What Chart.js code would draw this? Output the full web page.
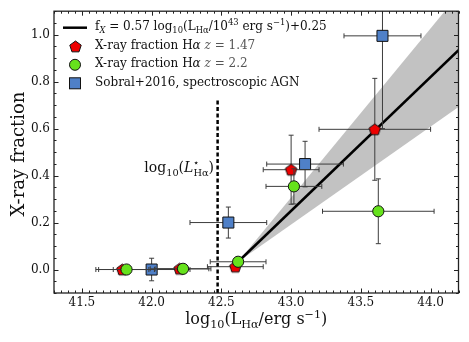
<!DOCTYPE html>
<html>
<head>
<meta charset="utf-8">
<script src="https://cdn.jsdelivr.net/npm/chart.js@4.4.1/dist/chart.umd.min.js"></script>
<style>
  html, body { margin: 0; padding: 0; background: #fff; }
  #wrap { width: 469px; height: 342px; position: relative; }
</style>
</head>
<body>
<div id="wrap"><canvas id="c"></canvas></div>
<script>
// X-ray fraction, H-alpha z = 1.47
const redX = [41.79, 42.20, 42.60, 43.00, 43.60];
const redY = [0.000, 0.003, 0.012, 0.425, 0.597];
const redXErr = [0.19, 0.21, 0.20, 0.20, 0.40];
const redYErr = [0.005, 0.005, 0.008, 0.147, 0.217];

// X-ray fraction, H-alpha z = 2.2
const greenX = [41.82, 42.225, 42.62, 43.02, 43.625];
const greenY = [0.000, 0.003, 0.033, 0.354, 0.248];
const greenXErr = [0.20, 0.20, 0.20, 0.20, 0.40];
const greenYErr = [0.005, 0.005, 0.008, 0.075, 0.138];

// Sobral+2016, spectroscopic AGN
const blueX = [42.00, 42.55, 43.10, 43.655];
const blueY = [0.000, 0.200, 0.449, 0.995];
const blueXErr = [0.275, 0.275, 0.275, 0.276];
const blueYErr = [0.048, 0.066, 0.097, 0.395];

// fit and its uncertainty band
const fitX = [42.62, 44.2];
const fitY = [0.033, 0.934];
const bandUpper = [0.033, 1.171];
const bandLower = [0.033, 0.692];

// L* marker
const lstarX = [42.473, 42.473];
const lstarY = [-0.1, 0.72];

const xTicks = [41.5, 42.0, 42.5, 43.0, 43.5, 44.0];
const yTicks = [0.0, 0.2, 0.4, 0.6, 0.8, 1.0];

const FONT = '"DejaVu Serif", "Liberation Serif", serif';
const RED = '#ee0000', GREEN = '#66e21c', BLUE = '#4f80c8';

const pts = (xs, ys) => xs.map((x, i) => ({x, y: ys[i]}));

function pentagon(fill, r) {
  const s = Math.ceil(2 * r + 3);
  const c = document.createElement('canvas');
  c.width = c.height = s;
  const g = c.getContext('2d');
  g.beginPath();
  for (let i = 0; i < 5; i++) {
    const a = -Math.PI / 2 + i * 2 * Math.PI / 5;
    const px = s / 2 + r * Math.cos(a), py = s / 2 + 0.5 + r * Math.sin(a);
    i ? g.lineTo(px, py) : g.moveTo(px, py);
  }
  g.closePath();
  g.fillStyle = fill;
  g.fill();
  g.lineWidth = 1;
  g.strokeStyle = '#111';
  g.stroke();
  return c;
}
const pentImg = pentagon(RED, 6);

// text with sub/superscripts and italics
function rich(ctx, x, y, parts, size, align) {
  const fontOf = p => `${p.i ? 'italic ' : ''}${p.s ? size * 0.7 : size}px ${FONT}`;
  let w = 0;
  parts.forEach(p => { ctx.font = fontOf(p); if (!p.k) w += ctx.measureText(p.t).width; });
  if (align === 'center') x -= w / 2;
  if (align === 'right') x -= w;
  ctx.textBaseline = 'alphabetic';
  ctx.textAlign = 'left';
  parts.forEach(p => {
    ctx.font = fontOf(p);
    ctx.fillStyle = p.c || '#111';
    const dy = p.s === 'sub' ? size * 0.25 : p.s === 'sup' ? -size * 0.4 : 0;
    ctx.fillText(p.t, x, y + dy);
    if (!p.k) x += ctx.measureText(p.t).width;
  });
  return w;
}

const errorBars = {
  id: 'errorBars',
  beforeDatasetDraw(chart, args) {
    const ds = chart.data.datasets[args.index];
    if (!ds.xErr) return;
    const {ctx, chartArea: a, scales: {x, y}} = chart;
    ctx.save();
    ctx.beginPath();
    ctx.rect(a.left, a.top, a.right - a.left, a.bottom - a.top);
    ctx.clip();
    ctx.strokeStyle = '#3c3c3c';
    ctx.lineWidth = 1;
    const cap = 2.5;
    ds.data.forEach((p, i) => {
      const px = x.getPixelForValue(p.x), py = y.getPixelForValue(p.y);
      const x0 = x.getPixelForValue(p.x - ds.xErr[i]), x1 = x.getPixelForValue(p.x + ds.xErr[i]);
      const y0 = y.getPixelForValue(p.y - ds.yErr[i]), y1 = y.getPixelForValue(p.y + ds.yErr[i]);
      ctx.beginPath();
      ctx.moveTo(x0, py); ctx.lineTo(x1, py);
      ctx.moveTo(x0, py - cap); ctx.lineTo(x0, py + cap);
      ctx.moveTo(x1, py - cap); ctx.lineTo(x1, py + cap);
      ctx.moveTo(px, y0); ctx.lineTo(px, y1);
      ctx.moveTo(px - cap, y0); ctx.lineTo(px + cap, y0);
      ctx.moveTo(px - cap, y1); ctx.lineTo(px + cap, y1);
      ctx.stroke();
    });
    ctx.restore();
  }
};

const frame = {
  id: 'frame',
  afterDatasetsDraw(chart) {
    const {ctx, chartArea: a, scales: {x, y}} = chart;
    ctx.save();
    ctx.strokeStyle = '#222';
    ctx.lineWidth = 1;
    ctx.beginPath();
    // minor + major ticks, inward, all sides
    for (let v = 41.3; v <= 44.2001; v += 0.05) {
      const r = Math.round(v * 100) / 100;
      const major = Math.abs(r * 2 - Math.round(r * 2)) < 1e-6;
      const len = major ? 4.5 : 2.5;
      const px = Math.round(x.getPixelForValue(r)) + 0.5;
      ctx.moveTo(px, a.bottom); ctx.lineTo(px, a.bottom - len);
      ctx.moveTo(px, a.top); ctx.lineTo(px, a.top + len);
    }
    for (let v = -0.1; v <= 1.1001; v += 0.05) {
      const r = Math.round(v * 100) / 100;
      const major = Math.abs(r * 5 - Math.round(r * 5)) < 1e-6;
      const len = major ? 4.5 : 2.5;
      const py = Math.round(y.getPixelForValue(r)) + 0.5;
      ctx.moveTo(a.left, py); ctx.lineTo(a.left + len, py);
      ctx.moveTo(a.right, py); ctx.lineTo(a.right - len, py);
    }
    ctx.stroke();
    ctx.lineWidth = 1.3;
    ctx.strokeRect(a.left, a.top, a.right - a.left, a.bottom - a.top);
    ctx.restore();
  },
  afterDraw(chart) {
    const {ctx, chartArea: a} = chart;
    ctx.save();
    // axis titles
    rich(ctx, (a.left + a.right) / 2, 324, [
      {t: 'log'}, {t: '10', s: 'sub'}, {t: '(L'}, {t: 'Hα', s: 'sub'},
      {t: '/erg s'}, {t: '−1', s: 'sup'}, {t: ')'}
    ], 16, 'center');
    ctx.save();
    ctx.translate(17, (a.top + a.bottom) / 2 + 2);
    ctx.rotate(-Math.PI / 2);
    rich(ctx, 0, 6.5, [{t: 'X-ray fraction'}], 18, 'center');
    ctx.restore();

    // L* label
    rich(ctx, 214, 172, [
      {t: 'log'}, {t: '10', s: 'sub'}, {t: '('}, {t: 'L', i: true},
      {t: '⋆', s: 'sup', k: true}, {t: 'Hα', s: 'sub'}, {t: ')'}
    ], 14, 'right');

    // legend
    const mx = 75, tx = 95, rows = [27.7, 46.2, 64.8, 83.3];
    ctx.strokeStyle = '#000';
    ctx.lineWidth = 2.5;
    ctx.beginPath(); ctx.moveTo(63, rows[0]); ctx.lineTo(87, rows[0]); ctx.stroke();
    ctx.drawImage(pentImg, Math.round(mx - pentImg.width / 2), Math.round(rows[1] - pentImg.height / 2));
    ctx.lineWidth = 1;
    ctx.strokeStyle = '#111';
    ctx.fillStyle = GREEN;
    ctx.beginPath(); ctx.arc(mx, rows[2], 5.5, 0, 2 * Math.PI); ctx.fill(); ctx.stroke();
    ctx.fillStyle = BLUE;
    ctx.fillRect(mx - 5.5, rows[3] - 5.5, 11, 11);
    ctx.strokeRect(mx - 5.5, rows[3] - 5.5, 11, 11);

    rich(ctx, tx, rows[0] + 2.5, [
      {t: 'f'}, {t: 'X', s: 'sub', i: true}, {t: ' = 0.57 log'}, {t: '10', s: 'sub'},
      {t: '(L'}, {t: 'Hα', s: 'sub'}, {t: '/10'}, {t: '43', s: 'sup'},
      {t: ' erg s'}, {t: '−1', s: 'sup'}, {t: ')+0.25'}
    ], 12);
    rich(ctx, tx, rows[1] + 2.5, [
      {t: 'X-ray fraction H'}, {t: 'α', i: true}, {t: ' '}, {t: 'z', i: true, c: '#555'}, {t: ' = 1.47', c: '#555'}
    ], 12);
    rich(ctx, tx, rows[2] + 2.5, [
      {t: 'X-ray fraction H'}, {t: 'α', i: true}, {t: ' '}, {t: 'z', i: true, c: '#555'}, {t: ' = 2.2', c: '#555'}
    ], 12);
    rich(ctx, tx, rows[3] + 2.5, [{t: 'Sobral+2016, spectroscopic AGN'}], 12);
    ctx.restore();
  }
};

new Chart(document.getElementById('c'), {
  type: 'scatter',
  data: {
    datasets: [
      {
        type: 'line', data: pts(fitX, bandUpper), fill: '+1', backgroundColor: '#c2c2c2',
        borderWidth: 0, pointRadius: 0, order: 10
      },
      {
        type: 'line', data: pts(fitX, bandLower), fill: false,
        borderWidth: 0, pointRadius: 0, order: 10
      },
      {
        type: 'line', data: pts(fitX, fitY), borderColor: '#000', borderWidth: 2.5,
        pointRadius: 0, fill: false, order: 9
      },
      {
        type: 'line', data: pts(lstarX, lstarY), borderColor: '#000', borderWidth: 2.5,
        borderDash: [4, 2.5], pointRadius: 0, fill: false, order: 8
      },
      {
        label: 'Sobral+2016, spectroscopic AGN', data: pts(blueX, blueY),
        xErr: blueXErr, yErr: blueYErr, pointStyle: 'rect', pointRadius: 7.8,
        backgroundColor: BLUE, borderColor: '#111', borderWidth: 1, order: 3
      },
      {
        label: 'X-ray fraction Hα z = 1.47', data: pts(redX, redY),
        xErr: redXErr, yErr: redYErr, pointStyle: pentImg, pointRadius: 6, order: 2
      },
      {
        label: 'X-ray fraction Hα z = 2.2', data: pts(greenX, greenY),
        xErr: greenXErr, yErr: greenYErr, pointStyle: 'circle', pointRadius: 5.6,
        backgroundColor: GREEN, borderColor: '#111', borderWidth: 1, order: 1
      }
    ]
  },
  options: {
    responsive: true,
    maintainAspectRatio: false,
    animation: false,
    layout: {padding: {top: 9, right: 10.5, left: 0, bottom: 0}},
    plugins: {legend: {display: false}, tooltip: {enabled: false}},
    scales: {
      x: {
        type: 'linear', min: 41.3, max: 44.2,
        afterBuildTicks: s => { s.ticks = xTicks.map(v => ({value: v})); },
        afterFit: s => { s.height = 49; },
        ticks: {
          callback: v => v.toFixed(1), font: {family: FONT, size: 12}, color: '#111',
          padding: 3, maxRotation: 0, autoSkip: false
        },
        grid: {display: false, drawTicks: false},
        border: {display: false}
      },
      y: {
        type: 'linear', min: -0.1, max: 1.1,
        afterBuildTicks: s => { s.ticks = yTicks.map(v => ({value: v})); },
        afterFit: s => { s.width = 54; },
        ticks: {
          callback: v => v.toFixed(1), font: {family: FONT, size: 12}, color: '#111',
          padding: 4, autoSkip: false
        },
        grid: {display: false, drawTicks: false},
        border: {display: false}
      }
    }
  },
  plugins: [errorBars, frame]
});
</script>
</body>
</html>
